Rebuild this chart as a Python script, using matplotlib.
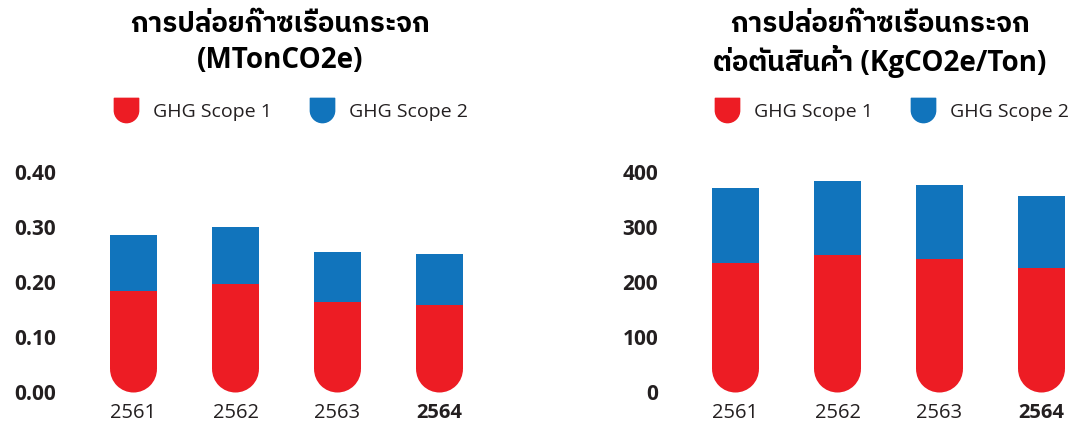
import matplotlib
matplotlib.use("Agg")
import matplotlib.pyplot as plt
from matplotlib import font_manager as fm
from matplotlib.ft2font import FT2Font
from matplotlib.patches import Ellipse
from matplotlib.path import Path
from matplotlib.lines import Line2D
import numpy as np

# ---------------- data ----------------
years = ["2561", "2562", "2563", "2564"]
left_scope1 = [0.183, 0.196, 0.164, 0.158]
left_scope2 = [0.102, 0.104, 0.090, 0.093]
right_scope1 = [234, 248, 241, 225]
right_scope2 = [136, 135, 134, 131]
left_title = ["การปล่อยก๊าซเรือนกระจก", "(MTonCO2e)"]
right_title = ["การปล่อยก๊าซเรือนกระจก", "ต่อตันสินค้า (KgCO2e/Ton)"]
left_yticks = [0.0, 0.1, 0.2, 0.3, 0.4]
left_yticklabels = ["0.00", "0.10", "0.20", "0.30", "0.40"]
right_yticks = [0, 100, 200, 300, 400]
right_yticklabels = ["0", "100", "200", "300", "400"]
legend_labels = ["GHG Scope 1", "GHG Scope 2"]

RED = "#ED1C24"
BLUE = "#1174BC"
TXT = "#231F20"

# ---------------- fonts ----------------
thai = None
cands = []
for f in fm.fontManager.ttflist:
    try:
        cm = FT2Font(f.fname).get_charmap()
    except Exception:
        continue
    if 0x0E01 in cm and 0x0E49 in cm:
        cands.append(f.name)
for c in cands:
    if "Thai" in c:
        thai = c
        break
if thai is None and cands:
    thai = cands[0]
families = ["Open Sans"] + ([thai] if thai else []) + ["DejaVu Sans"]
plt.rcParams["font.family"] = families

W, H = 1075, 425
fig = plt.figure(figsize=(W / 100, H / 100), dpi=100)

# shield marker for legend
arc = Path.arc(180, 360)
verts = list(arc.vertices) + [(1, 1), (-1, 1), (-1, 0)]
codes = list(arc.codes) + [Path.LINETO, Path.LINETO, Path.CLOSEPOLY]
shield = Path(verts, codes)


def panel(left_px, s1, s2, yticks, yticklabels, ylim, title, legend_cx):
    ax = fig.add_axes([left_px / W, 32.5 / H, 408 / W, 221 / H])
    ax.set_xlim(-0.5, 3.5)
    ax.set_ylim(*ylim)
    for sp in ax.spines.values():
        sp.set_visible(False)
    x = np.arange(len(years))
    w = 0.46
    p0 = ax.transData.transform((0, 0))
    p1 = ax.transData.transform((1, 1))
    sx, sy = p1[0] - p0[0], p1[1] - p0[1]
    ry = (w / 2) * sx / sy
    for xi, a, b in zip(x, s1, s2):
        ax.bar(xi, a - ry, bottom=ry, width=w, color=RED, linewidth=0)
        ax.add_patch(Ellipse((xi, ry), w, 2 * ry, facecolor=RED, linewidth=0))
        ax.bar(xi, b, bottom=a, width=w, color=BLUE, linewidth=0)
    ax.set_yticks(yticks)
    ax.set_yticklabels(yticklabels, fontsize=15, fontweight="bold", color=TXT)
    ax.set_xticks(x)
    ax.set_xticklabels(years, fontsize=14.5, color=TXT)
    ax.get_xticklabels()[-1].set_fontweight("bold")
    ax.tick_params(axis="both", length=0)
    ax.tick_params(axis="y", pad=19)
    ax.tick_params(axis="x", pad=7.5)
    # title
    cx = legend_cx[0]
    fig.text(cx / W, 1 - 24 / H, title[0], ha="center", va="center",
             fontsize=20, fontweight="bold", color="black")
    fig.text(cx / W, 1 - 61 / H, title[1], ha="center", va="center",
             fontsize=20, fontweight="bold", color="black")
    handles = [Line2D([], [], marker=shield, color=c, linestyle="none",
                      markersize=17.5) for c in (RED, BLUE)]
    fig.legend(handles, legend_labels, loc="center",
               bbox_to_anchor=(legend_cx[1] / W, 1 - 112 / H), ncol=2,
               frameon=False, fontsize=14, handlelength=1.1,
               handletextpad=0.85, columnspacing=2.0,
               labelcolor=TXT)
    return ax


panel(82.5, left_scope1, left_scope2, left_yticks, left_yticklabels, (0, 0.4),
      left_title, (280, 291.5))
panel(684.5, right_scope1, right_scope2, right_yticks, right_yticklabels, (0, 400),
      right_title, (880, 892.5))

fig.savefig("out.png", dpi=100)
